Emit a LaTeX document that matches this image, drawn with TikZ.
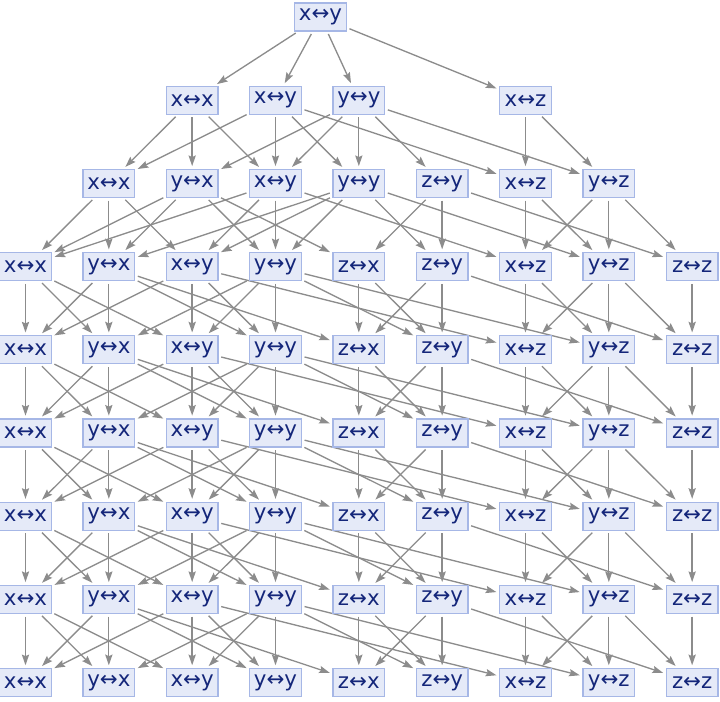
\documentclass[tikz,border=0pt]{standalone}
\usepackage{fontspec}
\setmainfont{DejaVu Sans}
\usepackage{xcolor}
\usetikzlibrary{arrows.meta,backgrounds}
\definecolor{boxfill}{HTML}{E5EAF8}
\definecolor{boxline}{HTML}{A6B7E6}
\definecolor{labeltext}{HTML}{14267A}
\definecolor{edgegray}{HTML}{8C8C8C}
\tikzstyle{state} = [draw=boxline, fill=boxfill, text=labeltext, line width=0.9pt, minimum width=38.8pt, minimum height=21pt, inner sep=0pt, font=\fontsize{16}{18}\selectfont]
\tikzstyle{edge} = [edgegray, line width=1pt, -{Stealth[length=8pt,width=5.4pt,inset=1.2pt]}, shorten >=2pt, shorten <=2pt]

\begin{document}
\begin{tikzpicture}[x=0.75pt, y=-0.75pt]
\useasboundingbox (0,0) rectangle (720,702);
% states, layer by layer
\node[state] (n0xy) at (320.5,17) {x↔y};
\foreach \p/\q/\c in {x/x/2, x/y/3, y/y/4, x/z/6}
  \node[state] (n1\p\q) at (25.5+83.33*\c,100.2) {\p↔\q};
\foreach \p/\q/\c in {x/x/1, y/x/2, x/y/3, y/y/4, z/y/5, x/z/6, y/z/7}
  \node[state] (n2\p\q) at (25.5+83.33*\c,183.4) {\p↔\q};
\foreach \r in {3,...,8}
  \foreach \p/\q/\c in {x/x/0, y/x/1, x/y/2, y/y/3, z/x/4, z/y/5, x/z/6, y/z/7, z/z/8}
    \node[state] (n\r\p\q) at (25.5+83.33*\c,17+83.19*\r) {\p↔\q};
% transitions
\begin{scope}[on background layer]
\foreach \b in {xx, xy, yy, xz}
  \draw[edge] (n0xy) -- (n1\b);
\foreach \a/\b in {xx/xx, xx/yx, xx/xy, xy/xy, xy/yy, xy/xx, xy/xz,
                   yy/yy, yy/xy, yy/zy, yy/yx, yy/yz, xz/xz, xz/yz}
  \draw[edge] (n1\a) -- (n2\b);
\foreach \a/\b in {xx/xx, xx/yx, xx/xy, yx/yx, yx/xx, yx/zx, yx/yy,
                   xy/xy, xy/yy, xy/xx, xy/xz, yy/yy, yy/xy, yy/zy, yy/yx, yy/yz,
                   zy/zy, zy/zx, zy/zz, xz/xz, xz/yz, yz/yz, yz/xz, yz/zz}
  \draw[edge] (n2\a) -- (n3\b);
\foreach \r [count=\s from 4] in {3,...,7}
  \foreach \a/\b in {xx/xx, xx/yx, xx/xy, yx/yx, yx/xx, yx/zx, yx/yy,
                     xy/xy, xy/yy, xy/xx, xy/xz, yy/yy, yy/xy, yy/zy, yy/yx, yy/yz,
                     zx/zx, zx/zy, zy/zy, zy/zx, zy/zz, xz/xz, xz/yz,
                     yz/yz, yz/xz, yz/zz, zz/zz}
    \draw[edge] (n\r\a) -- (n\s\b);
\end{scope}
\end{tikzpicture}
\end{document}
